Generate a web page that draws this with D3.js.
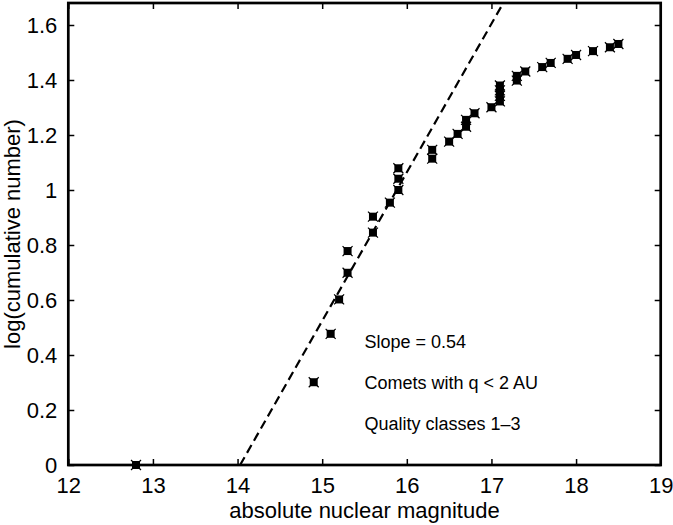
<!DOCTYPE html>
<html>
<head>
<meta charset="utf-8">
<script src="https://cdn.jsdelivr.net/npm/d3@7"></script>
<style>
  body { margin: 0; background: #fff; }
  svg { display: block; font-family: "Liberation Sans", Arial, Helvetica, sans-serif; }
</style>
</head>
<body>
<div id="chart"></div>
<script>
// data: absolute nuclear magnitude vs log(cumulative number)
const magnitudes = [
  12.8, 14.9, 15.1, 15.2, 15.3, 15.3, 15.6, 15.6, 15.8, 15.9,
  15.9, 15.9, 16.3, 16.3, 16.5, 16.6, 16.7, 16.7, 16.8, 17.0,
  17.1, 17.1, 17.1, 17.1, 17.3, 17.3, 17.4, 17.6, 17.7, 17.9,
  18.0, 18.2, 18.4, 18.5
];
const logCumulative = [
  0.000, 0.301, 0.477, 0.602, 0.699, 0.778, 0.845, 0.903, 0.954, 1.000,
  1.041, 1.079, 1.114, 1.146, 1.176, 1.204, 1.230, 1.255, 1.279, 1.301,
  1.322, 1.342, 1.362, 1.380, 1.398, 1.415, 1.431, 1.447, 1.462, 1.477,
  1.491, 1.505, 1.519, 1.531
];
// fitted line, slope 0.54 (end points in data units)
const fitX = [14.03, 17.14];
const fitY = [0, 1.68];

const xTicks = [12, 13, 14, 15, 16, 17, 18, 19];
const yTicks = [0, 0.2, 0.4, 0.6, 0.8, 1, 1.2, 1.4, 1.6];
const notes = ["Slope = 0.54", "Comets with q < 2 AU", "Quality classes 1\u20133"];
const noteY = [0.45, 0.30, 0.15];
const noteX = 15.5;

const width = 673, height = 525;
const margin = { top: 3, right: 12.3, bottom: 60, left: 68.3 };

const svg = d3.select("#chart").append("svg")
  .attr("width", width).attr("height", height);

const x = d3.scaleLinear().domain([12, 19]).range([margin.left, width - margin.right]);
const y = d3.scaleLinear().domain([0, 1.68]).range([height - margin.bottom, margin.top]);

svg.append("clipPath").attr("id", "clip")
  .append("rect")
  .attr("x", margin.left).attr("y", margin.top)
  .attr("width", x(19) - x(12)).attr("height", y(0) - y(1.68));

// fit line
svg.append("line")
  .attr("clip-path", "url(#clip)")
  .attr("x1", x(fitX[0])).attr("y1", y(fitY[0]))
  .attr("x2", x(fitX[1])).attr("y2", y(fitY[1]))
  .attr("stroke", "#000").attr("stroke-width", 2.2)
  .attr("stroke-dasharray", "9,5");

// markers: filled square with small x spikes
const pts = magnitudes.map((m, i) => ({ m, v: logCumulative[i] }));
const mk = svg.append("g").selectAll("g").data(pts).join("g")
  .attr("transform", d => `translate(${x(d.m)},${y(d.v)})`);
mk.append("rect").attr("x", -4).attr("y", -4).attr("width", 8).attr("height", 8).attr("fill", "#000");
mk.append("path").attr("d", "M-5,-5L5,5M-5,5L5,-5")
  .attr("stroke", "#000").attr("stroke-width", 1.2);

// axes with inside ticks on all sides
const tick = 6;
const gx = svg.append("g").attr("transform", `translate(0,${y(0)})`)
  .call(d3.axisBottom(x).tickValues(xTicks).tickSize(-tick).tickPadding(tick + 6).tickFormat(d3.format("d")));
const gxTop = svg.append("g").attr("transform", `translate(0,${y(1.68)})`)
  .call(d3.axisTop(x).tickValues(xTicks).tickSize(-tick).tickFormat(""));
const gy = svg.append("g").attr("transform", `translate(${x(12)},0)`)
  .call(d3.axisLeft(y).tickValues(yTicks).tickSize(-tick).tickPadding(tick + 5).tickFormat(d => d3.format("")(+d.toFixed(1))));
const gyR = svg.append("g").attr("transform", `translate(${x(19)},0)`)
  .call(d3.axisRight(y).tickValues(yTicks).tickSize(-tick).tickFormat(""));

[gx, gxTop, gy, gyR].forEach(g => {
  g.select(".domain").remove();
  g.selectAll(".tick line").attr("stroke", "#000").attr("stroke-width", 1.5);
  g.selectAll("text").attr("fill", "#000").style("font-size", "22px");
});

// box
svg.append("rect")
  .attr("x", x(12)).attr("y", y(1.68))
  .attr("width", x(19) - x(12)).attr("height", y(0) - y(1.68))
  .attr("fill", "none").attr("stroke", "#000").attr("stroke-width", 2.7);

// annotations
svg.append("g").selectAll("text").data(notes).join("text")
  .attr("x", x(noteX)).attr("y", (d, i) => y(noteY[i]))
  .attr("dy", "0.35em")
  .style("font-size", "18px")
  .text(d => d);

// axis titles
svg.append("text")
  .attr("x", (x(12) + x(19)) / 2).attr("y", 518)
  .attr("text-anchor", "middle").style("font-size", "22px")
  .text("absolute nuclear magnitude");
svg.append("text")
  .attr("transform", `translate(20,${(y(0) + y(1.68)) / 2}) rotate(-90)`)
  .attr("text-anchor", "middle").style("font-size", "22px")
  .text("log(cumulative number)");
</script>
</body>
</html>
